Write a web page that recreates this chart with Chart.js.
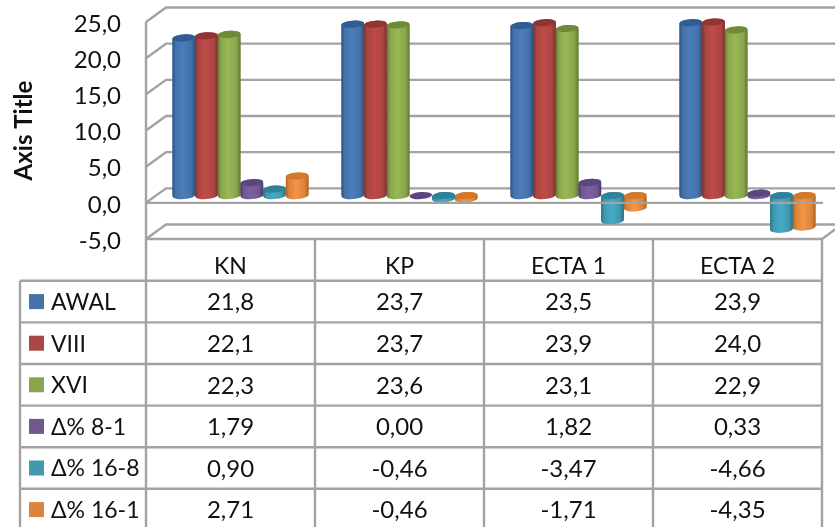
<!DOCTYPE html>
<html>
<head>
<meta charset="utf-8">
<title>Axis Title</title>
<script src="https://cdn.jsdelivr.net/npm/chart.js@4/dist/chart.umd.min.js"></script>
<style>
    html, body { margin: 0; padding: 0; background: #fff; overflow: hidden; }
    #wrap { width: 835px; height: 527px; }
</style>
</head>
<body>
<div id="wrap"><canvas id="chart" width="835" height="527"></canvas></div>
<script>
const categories = ["KN", "KP", "ECTA 1", "ECTA 2"];
const awal = [21.8, 23.7, 23.5, 23.9];
const viii = [22.1, 23.7, 23.9, 24.0];
const xvi = [22.3, 23.6, 23.1, 22.9];
const delta81 = [1.79, 0.00, 1.82, 0.33];
const delta168 = [0.90, -0.46, -3.47, -4.66];
const delta161 = [2.71, -0.46, -1.71, -4.35];

const seriesNames = ["AWAL", "VIII", "XVI", "Δ% 8-1", "Δ% 16-8", "Δ% 16-1"];
const seriesValues = [awal, viii, xvi, delta81, delta168, delta161];
// decimals shown in the table for each row
const seriesDecimals = [1, 1, 1, 2, 2, 2];

// edge, middle, legend key and cap colour per series
const palette = [
    { edge: "#2a5282", mid: "#4a7ebb", key: "#4572a7", cap: "#2f5c91" },
    { edge: "#7e2f2d", mid: "#be4b48", key: "#aa4643", cap: "#8f3634" },
    { edge: "#627730", mid: "#98b955", key: "#89a54e", cap: "#6f8a38" },
    { edge: "#4b3666", mid: "#7d60a0", key: "#71588f", cap: "#5d4580" },
    { edge: "#277385", mid: "#46aac5", key: "#4198af", cap: "#2f8298" },
    { edge: "#b0631f", mid: "#f69546", key: "#db843d", cap: "#d2782c" }
];

const gridColor = "#a3a3a3";
const textColor = "#111111";
const fontFamily = "Lato, sans-serif";
const depthX = 20;
const depthY = 14.5;
const tableLeft = 20;
const rowHeight = 41.6;

function decimalComma(value, digits) {
    return value.toFixed(digits).replace(".", ",");
}

function line(ctx, points) {
    ctx.beginPath();
    points.forEach((p, i) => (i ? ctx.lineTo(p[0], p[1]) : ctx.moveTo(p[0], p[1])));
    ctx.stroke();
}

// back wall, side wall and floor behind the bars
const wallsPlugin = {
    id: "walls",
    beforeDatasetsDraw(chart) {
        const { ctx, chartArea: area, scales: { y } } = chart;
        ctx.save();
        ctx.strokeStyle = gridColor;
        ctx.lineWidth = 2.4;
        y.ticks.forEach((tick) => {
            const py = y.getPixelForValue(tick.value);
            line(ctx, [[area.left, py], [area.left + depthX, py - depthY], [chart.width + 10, py - depthY]]);
        });
        line(ctx, [[area.left, y.top], [area.left, y.bottom]]);
        const floor = y.bottom;
        line(ctx, [[area.right, floor], [area.right + depthX, floor - depthY]]);
        ctx.restore();

        // the bars stand in the middle of the chart depth
        ctx.save();
        ctx.translate(depthX / 2, -depthY / 2);
    },
    afterDatasetsDraw(chart) {
        const { ctx, chartArea: area, scales: { y } } = chart;
        chart.data.datasets.forEach((ds, i) => {
            chart.getDatasetMeta(i).data.forEach((bar) => {
                drawCylinder(ctx, bar, palette[i]);
            });
        });
        ctx.restore();

        // zero line of the front plane runs over the negative bars
        ctx.save();
        ctx.strokeStyle = gridColor;
        ctx.lineWidth = 2.4;
        const zero = y.getPixelForValue(0);
        line(ctx, [[area.left, zero], [area.right + 1, zero]]);
        ctx.restore();
    },
    afterDraw(chart) {
        drawTable(chart);
    }
};

// shades the flat bar as a cylinder: curved body with a round end, then the top face
function drawCylinder(ctx, bar, colors) {
    const top = Math.min(bar.y, bar.base);
    const bottom = Math.max(bar.y, bar.base);
    const rx = bar.width / 2;
    const ry = 3.5;
    const tilt = -0.075;

    if (bottom - top > 0.5) {
        ctx.beginPath();
        ctx.ellipse(bar.x, bottom, rx, ry, tilt, 0, Math.PI);
        ctx.ellipse(bar.x, top, rx, ry, tilt, Math.PI, Math.PI * 2);
        ctx.closePath();
        ctx.fillStyle = bodyGradient(ctx, bar, colors);
        ctx.fill();
    }
    ctx.beginPath();
    ctx.ellipse(bar.x, top, rx, ry, tilt, 0, Math.PI * 2);
    ctx.fillStyle = colors.cap;
    ctx.fill();
}

function bodyGradient(ctx, bar, colors) {
    const left = bar.x - bar.width / 2;
    const g = ctx.createLinearGradient(left, 0, left + bar.width, 0);
    g.addColorStop(0, colors.edge);
    g.addColorStop(0.14, colors.key);
    g.addColorStop(0.45, colors.mid);
    g.addColorStop(0.82, colors.key);
    g.addColorStop(1, colors.edge);
    return g;
}

// data table under the plot, lined up with the category axis
function drawTable(chart) {
    const { ctx, chartArea: area, scales: { x } } = chart;
    const colWidth = (area.right - area.left) / categories.length;
    const top = area.bottom;
    const firstRow = top + 41.8;

    ctx.save();
    ctx.strokeStyle = gridColor;
    ctx.lineWidth = 2.4;
    for (let c = 0; c <= categories.length; c++) {
        const px = area.left + c * colWidth;
        line(ctx, [[px, top], [px, chart.height]]);
    }
    line(ctx, [[tableLeft, firstRow], [tableLeft, chart.height]]);
    line(ctx, [[area.left, top], [area.right, top]]);
    for (let r = 0; r <= seriesNames.length; r++) {
        const py = firstRow + r * rowHeight;
        line(ctx, [[tableLeft, py], [area.right, py]]);
    }

    ctx.fillStyle = textColor;
    ctx.textBaseline = "middle";
    seriesNames.forEach((name, r) => {
        const cy = firstRow + (r + 0.5) * rowHeight;
        ctx.fillStyle = palette[r].key;
        ctx.fillRect(29, cy - 7.5, 15, 15);
        ctx.fillStyle = textColor;
        ctx.font = "23px " + fontFamily;
        ctx.textAlign = "left";
        ctx.fillText(name, 51, cy + 1);
        ctx.font = "24px " + fontFamily;
        ctx.textAlign = "center";
        seriesValues[r].forEach((value, c) => {
            ctx.fillText(decimalComma(value, seriesDecimals[r]), x.getPixelForValue(c), cy + 1);
        });
    });
    ctx.restore();
}

new Chart(document.getElementById("chart"), {
    type: "bar",
    plugins: [wallsPlugin],
    data: {
        labels: categories,
        datasets: seriesNames.map((name, i) => ({
            label: name,
            data: seriesValues[i],
            backgroundColor: palette[i].key,
            borderWidth: 0,
            clip: false,
            categoryPercentage: 0.805,
            barPercentage: 1
        }))
    },
    options: {
        responsive: false,
        animation: false,
        layout: { padding: { top: 22, right: 13, left: 0, bottom: 0 } },
        plugins: {
            legend: { display: false },
            tooltip: { enabled: false }
        },
        scales: {
            x: {
                grid: { display: false, drawTicks: false },
                border: { display: false },
                ticks: {
                    color: textColor,
                    font: { family: fontFamily, size: 23 },
                    padding: 14,
                    maxRotation: 0
                },
                afterFit(scale) { scale.height = 288; }
            },
            y: {
                min: -5,
                max: 25,
                grid: { display: false, drawTicks: false },
                border: { display: false },
                title: {
                    display: true,
                    text: "Axis Title",
                    color: textColor,
                    font: { family: fontFamily, size: 24, weight: "bold" },
                    padding: { top: 10, bottom: 0 }
                },
                ticks: {
                    stepSize: 5,
                    color: textColor,
                    font: { family: fontFamily, size: 24 },
                    padding: 25,
                    labelOffset: 2,
                    callback: (value) => decimalComma(value, 1)
                },
                afterFit(scale) {
                    // full plot height, no room reserved for half a tick label
                    scale.width = 146;
                    scale.paddingTop = 0;
                    scale.paddingBottom = 0;
                }
            }
        }
    }
});
</script>
</body>
</html>
